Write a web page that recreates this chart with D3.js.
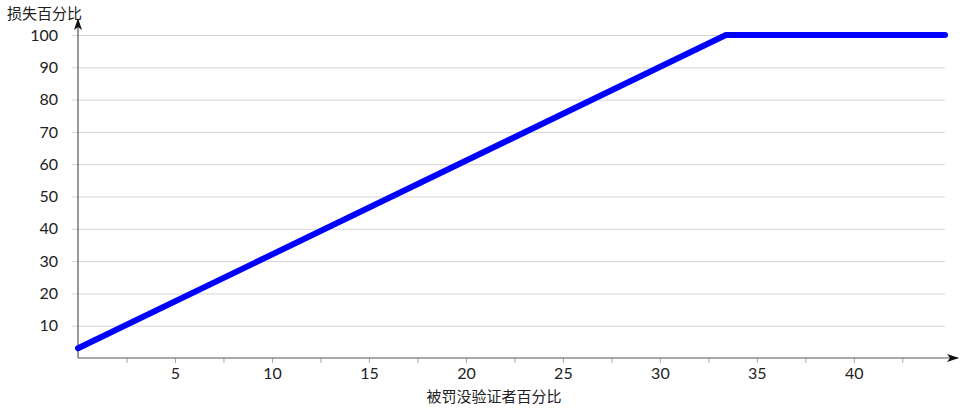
<!DOCTYPE html>
<html>
<head>
<meta charset="utf-8">
<script src="https://cdn.jsdelivr.net/npm/d3@7"></script>
<style>
body { margin: 0; background: #fff; }
svg { display: block; font-family: Lato, "Noto Sans CJK SC", sans-serif; }
</style>
</head>
<body>
<svg id="chart" width="972" height="410"></svg>
<script>
// slashed validators (%) -> loss (%)
var slashedPct = [0, 33.4, 44.7];
var lossPct = [3, 100, 100];
var xTicks = [5, 10, 15, 20, 25, 30, 35, 40];
var xMinorTicks = [2.5, 7.5, 12.5, 17.5, 22.5, 27.5, 32.5, 37.5, 42.5];
var yTicks = [10, 20, 30, 40, 50, 60, 70, 80, 90, 100];
var xTitle = "被罚没验证者百分比";
var yTitle = "损失百分比";

var svg = d3.select("#chart");

var scaleX = d3.scaleLinear()
	.domain([0, 44.7])
	.range([78, 945]);

var scaleY = d3.scaleLinear()
	.domain([0, 100])
	.range([358, 35]);

var defs = svg.append("defs");
defs.append("marker")
	.attr("id", "arrow")
	.attr("viewBox", "0 0 12 8")
	.attr("refX", 11)
	.attr("refY", 4)
	.attr("markerWidth", 12)
	.attr("markerHeight", 8)
	.attr("markerUnits", "userSpaceOnUse")
	.attr("orient", "auto")
	.append("path")
		.attr("d", "M0,0 L12,4 L0,8 L3,4 Z")
		.attr("fill", "#111");

// horizontal gridlines (they poke out left of the axis as ticks)
svg.append("g")
	.attr("transform", "translate(" + scaleX(44.7) + ",0)")
	.call(d3.axisLeft(scaleY)
		.tickValues(yTicks)
		.tickSize(scaleX(44.7) - 72)
		.tickFormat(""))
	.call(g => g.select(".domain").remove())
	.selectAll("line")
		.attr("stroke", "#d4d4d4");

// y tick labels
svg.append("g")
	.attr("transform", "translate(72,0)")
	.call(d3.axisLeft(scaleY)
		.tickValues(yTicks)
		.tickSize(0)
		.tickPadding(14))
	.call(g => g.select(".domain").remove())
	.selectAll("text")
		.attr("font-family", "Lato, sans-serif")
		.attr("font-size", "16px")
		.attr("fill", "#222");

// x minor ticks
svg.append("g")
	.attr("transform", "translate(0," + scaleY(0) + ")")
	.call(d3.axisBottom(scaleX)
		.tickValues(xMinorTicks)
		.tickSize(5)
		.tickFormat(""))
	.call(g => g.select(".domain").remove())
	.selectAll("line")
		.attr("stroke", "#aaa");

// x major ticks + labels
svg.append("g")
	.attr("transform", "translate(0," + scaleY(0) + ")")
	.call(d3.axisBottom(scaleX)
		.tickValues(xTicks)
		.tickSize(5)
		.tickPadding(5))
	.call(g => g.select(".domain").remove())
	.call(g => g.selectAll("line").attr("stroke", "#aaa"))
	.selectAll("text")
		.attr("font-family", "Lato, sans-serif")
		.attr("font-size", "16px")
		.attr("fill", "#222");

// axis lines with arrows
svg.append("line")
	.attr("x1", scaleX(0))
	.attr("y1", scaleY(0))
	.attr("x2", 958)
	.attr("y2", scaleY(0))
	.attr("stroke", "#555")
	.attr("stroke-width", 1.2)
	.attr("marker-end", "url(#arrow)");

svg.append("line")
	.attr("x1", scaleX(0))
	.attr("y1", scaleY(0))
	.attr("x2", scaleX(0))
	.attr("y2", 19)
	.attr("stroke", "#555")
	.attr("stroke-width", 1.2)
	.attr("marker-end", "url(#arrow)");

// the curve
var data = slashedPct.map((d, i) => [d, lossPct[i]]);
var lineGenerator = d3.line()
	.x(d => scaleX(d[0]))
	.y(d => scaleY(d[1]));

svg.append("path")
	.attr("d", lineGenerator(data))
	.attr("fill", "none")
	.attr("stroke", "#0000ff")
	.attr("stroke-width", 6)
	.attr("stroke-linecap", "round")
	.attr("stroke-linejoin", "miter");

// titles
svg.append("text")
	.attr("x", 494)
	.attr("y", 402)
	.attr("text-anchor", "middle")
	.attr("font-family", "'Noto Sans CJK SC', sans-serif")
	.attr("font-size", "15px")
	.attr("fill", "#222")
	.text(xTitle);

svg.append("text")
	.attr("x", 7)
	.attr("y", 19)
	.attr("font-family", "'Noto Sans CJK SC', sans-serif")
	.attr("font-size", "15px")
	.attr("fill", "#222")
	.text(yTitle);
</script>
</body>
</html>
